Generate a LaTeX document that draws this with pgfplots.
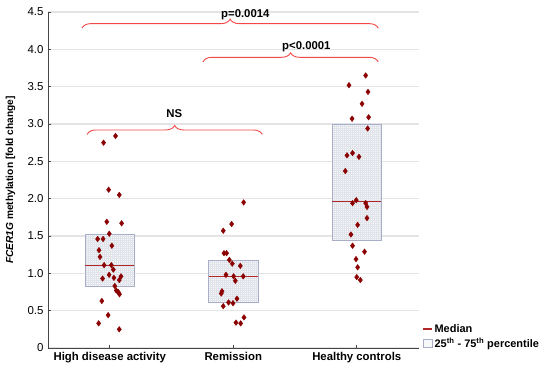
\documentclass[border=0pt]{standalone}
\usepackage{pgfplots}
\pgfplotsset{compat=1.18}
\usepackage{fontspec}
\setmainfont{Liberation Sans}
\usetikzlibrary{decorations.pathreplacing,patterns.meta}
\definecolor{ptred}{RGB}{139,0,0}
\definecolor{medcol}{RGB}{178,40,40}
\definecolor{bracecol}{RGB}{242,72,72}
\definecolor{boxedge}{RGB}{168,174,200}
\definecolor{boxfill}{RGB}{247,248,250}
\definecolor{patcol}{RGB}{224,228,234}
\definecolor{gridc}{RGB}{228,228,228}
\definecolor{axcol}{RGB}{70,70,70}
\begin{document}
\begin{tikzpicture}[x=1bp,y=1bp]
\path[use as bounding box] (-48,-22) rectangle (502,348);
\begin{axis}[
  at={(0,0)}, anchor=south west,
  scale only axis, width=370.5bp, height=336bp,
  xmin=-0.5, xmax=2.5, ymin=0, ymax=4.5,
  clip=false,
  axis lines*=left,
  axis line style={axcol, line width=0.8bp},
  xtick={0,1,2},
  xticklabels={High disease activity, Remission, Healthy controls},
  xticklabel style={font=\bfseries\fontsize{11.4}{13}\selectfont, yshift=-1bp},
  ytick={0,0.5,1,1.5,2,2.5,3,3.5,4,4.5},
  yticklabels={0,0.5,1.0,1.5,2.0,2.5,3.0,3.5,4.0,4.5},
  yticklabel style={font=\fontsize{11.5}{13}\selectfont, xshift=-1bp},
  tick align=inside, major tick length=3bp,
  tick style={axcol, line width=0.6bp},
  ymajorgrids, grid style={gridc, line width=1.1bp},
  every axis y label/.style={at={(axis description cs:-0.088,0.5)}, rotate=90, anchor=south, inner sep=0pt},
  ylabel={\textit{FCER1G} methylation [fold change]},
  ylabel style={font=\bfseries\fontsize{10.2}{12}\selectfont},
  legend style={at={(axis description cs:1.01,-0.01)}, anchor=south west, draw=none, fill=none,
    font=\bfseries\fontsize{11}{12.5}\selectfont, inner sep=0pt, row sep=0.5bp,
    cells={anchor=west}},
]
\addlegendimage{legend image code/.code={\draw[medcol, line width=1.2bp] (0bp,0bp) -- (9bp,0bp);}}
\addlegendentry{Median}
\addlegendimage{legend image code/.code={\draw[boxedge, fill=boxfill, line width=0.6bp] (0bp,-4bp) rectangle (9bp,4bp);}}
\addlegendentry{25\textsuperscript{th} - 75\textsuperscript{th} percentile}

% boxes (25th-75th percentile)
\addplot[forget plot, draw=boxedge, line width=0.8bp, fill=boxfill,
  postaction={pattern={Hatch[angle=0,distance=2bp,line width=0.3bp]}, pattern color=patcol}]
  coordinates {(-0.2,0.83) (0.2,0.83) (0.2,1.52) (-0.2,1.52)} -- cycle;
\addplot[forget plot, draw=boxedge, line width=0.8bp, fill=boxfill,
  postaction={pattern={Hatch[angle=0,distance=2bp,line width=0.3bp]}, pattern color=patcol}]
  coordinates {(0.8,0.61) (1.2,0.61) (1.2,1.178) (0.8,1.178)} -- cycle;
\addplot[forget plot, draw=boxedge, line width=0.8bp, fill=boxfill,
  postaction={pattern={Hatch[angle=0,distance=2bp,line width=0.3bp]}, pattern color=patcol}]
  coordinates {(1.8,1.446) (2.2,1.446) (2.2,3.0) (1.8,3.0)} -- cycle;

% medians
\addplot[forget plot, medcol, line width=1.1bp] coordinates {(-0.2,1.107) (0.2,1.107)};
\addplot[forget plot, medcol, line width=1.1bp] coordinates {(0.8,0.96) (1.2,0.96)};
\addplot[forget plot, medcol, line width=1.1bp] coordinates {(1.8,1.96) (2.2,1.96)};

% individual values
\addplot[forget plot, only marks, mark=diamond*, mark size=2.8bp, color=ptred] coordinates {
(-0.050,2.75) (0.047,2.84) (-0.009,2.12) (0.077,2.05) (-0.024,1.69) (0.096,1.67)
(-0.004,1.53) (-0.098,1.46) (-0.054,1.46) (0.017,1.37) (-0.087,1.31) (-0.079,1.22)
(-0.046,1.11) (0.013,1.11) (0.029,1.05) (-0.058,0.93) (-0.005,0.98) (0.034,0.94)
(0.077,0.91) (0.091,0.96) (0.041,0.83) (0.053,0.77) (0.069,0.75) (0.079,0.72)
(-0.064,0.63) (-0.013,0.44) (-0.090,0.33) (0.077,0.25)
};
\addplot[forget plot, only marks, mark=diamond*, mark size=2.8bp, color=ptred] coordinates {
(1.084,1.95) (0.987,1.66) (0.919,1.57) (0.925,1.27) (0.946,1.27) (0.968,1.18)
(0.992,1.13) (1.057,1.10) (0.941,0.98) (1.003,0.96) (1.081,0.96) (1.017,0.90)
(0.909,0.76) (0.903,0.73) (1.030,0.66) (0.962,0.61) (0.998,0.60) (0.919,0.56)
(1.087,0.41) (1.022,0.34) (1.060,0.33)
};
\addplot[forget plot, only marks, mark=diamond*, mark size=2.8bp, color=ptred] coordinates {
(2.072,3.65) (1.937,3.52) (2.091,3.43) (2.043,3.27) (1.962,3.07) (2.096,3.09)
(2.088,2.94) (1.921,2.58) (1.966,2.61) (2.018,2.56) (1.907,2.37) (1.996,1.98)
(1.966,1.94) (2.072,1.94) (2.083,1.89) (2.083,1.74) (2.007,1.65) (1.953,1.52)
(1.966,1.37) (2.063,1.29) (1.994,1.19) (2.007,1.08) (2.000,0.95) (2.029,0.91)
};

% significance braces
\draw[bracecol, line width=0.9bp, decorate, decoration={brace, amplitude=9bp}]
  (axis cs:-0.225,4.284) -- (axis cs:2.174,4.284);
\draw[bracecol, line width=0.9bp, decorate, decoration={brace, amplitude=9bp}]
  (axis cs:0.755,3.833) -- (axis cs:2.174,3.833);
\draw[bracecol, line width=0.9bp, decorate, decoration={brace, amplitude=9bp}]
  (axis cs:-0.184,2.86) -- (axis cs:1.235,2.86);
\node[font=\bfseries\fontsize{11.4}{13}\selectfont] at (axis cs:1.098,4.47) {p=0.0014};
\node[font=\bfseries\fontsize{11.4}{13}\selectfont] at (axis cs:1.592,4.03) {p<0.0001};
\node[font=\bfseries\fontsize{11.4}{13}\selectfont] at (axis cs:0.523,3.146) {NS};
\end{axis}
\end{tikzpicture}
\end{document}
